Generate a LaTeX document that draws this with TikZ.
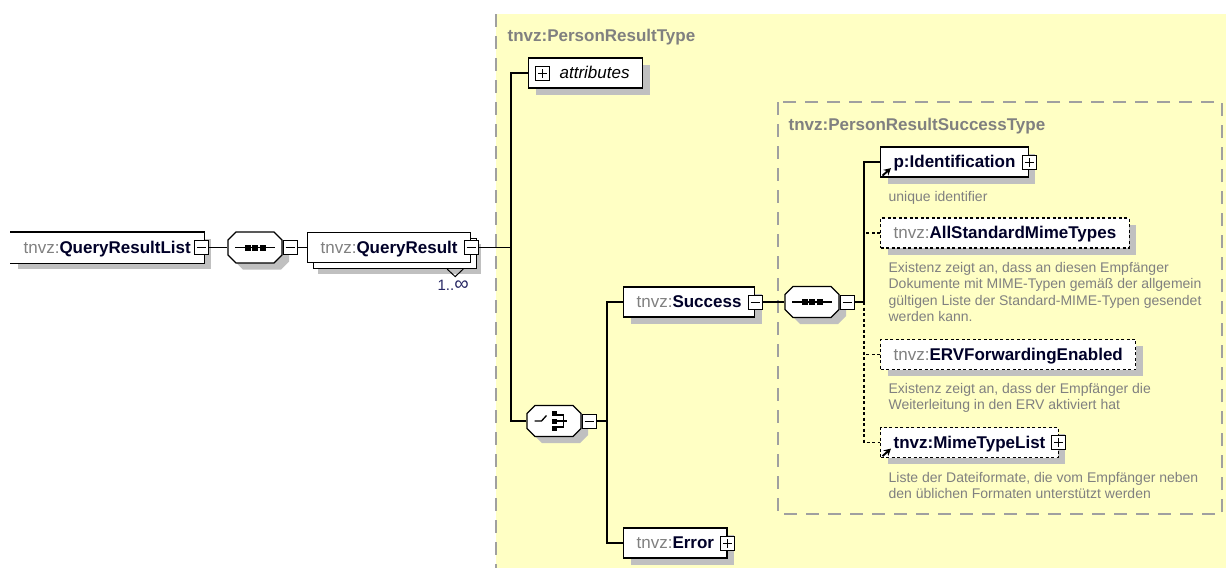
\documentclass[tikz,border=0pt]{standalone}
\usepackage{fontspec}
\setmainfont{Liberation Sans}
\usetikzlibrary{shadows,arrows.meta}

\definecolor{typebg}{RGB}{255,255,196}
\definecolor{shadowgray}{RGB}{192,192,192}
\definecolor{framegray}{RGB}{160,160,160}
\definecolor{prefixgray}{RGB}{128,128,128}
\definecolor{namecol}{RGB}{0,0,40}
\definecolor{doccol}{RGB}{128,128,128}
\definecolor{occurcol}{RGB}{40,40,100}

\newcommand{\tnvzname}[1]{{\color{prefixgray}tnvz:}{\bfseries\color{namecol}#1}}
\newcommand{\signroom}{\hspace{8pt}}

\begin{document}
\begin{tikzpicture}[x=10pt,y=10pt,line width=1.2pt]
    \tikzstyle{boxshadow}=[drop shadow={shadow xshift=7pt, shadow yshift=-6.5pt, fill=shadowgray, opacity=1}]
    \tikzstyle{elembase}=[draw, fill=white, minimum height=30pt, inner xsep=13pt, inner ysep=0pt, text height=13pt, text depth=2pt, font=\fontsize{17}{20}\selectfont]
    \tikzstyle{elem}=[elembase, boxshadow]
    \tikzstyle{optelem}=[elem, dash pattern=on 3pt off 2.5pt]
    \tikzstyle{compositor}=[minimum width=54pt, minimum height=31pt, inner sep=0pt]
    \tikzstyle{pm}=[draw, fill=white, minimum size=14pt, inner sep=0pt, line width=1pt]
    \tikzstyle{doc}=[anchor=north west, inner sep=0pt, align=left, text=doccol, font=\fontsize{14}{16.4}\selectfont]
    \tikzstyle{typetitle}=[anchor=base west, inner sep=0pt, text=prefixgray, font=\fontsize{17}{20}\selectfont\bfseries]
    \tikzstyle{typeframe}=[draw=framegray, dash pattern=on 13pt off 9pt, line width=1.5pt]
    \tikzstyle{optline}=[dash pattern=on 3pt off 2.5pt]
    \tikzstyle{refarrow}=[-{Stealth[length=7pt,width=7.5pt]}, line width=1.9pt]

    \useasboundingbox (0,0) rectangle (122.6,-56.8);

    % complex types
    \fill[typebg] (49.6,-1.4) rectangle (122.6,-56.8);
    \draw[typeframe] (49.6,-1.4) -- (49.6,-56.8);
    \node[typetitle] (prt) at (50.7,-4.1) {tnvz:PersonResultType};
    \draw[typeframe, fill=typebg] (77.8,-10.2) rectangle (122.2,-51.4);
    \node[typetitle] (prst) at (78.8,-13.0) {tnvz:PersonResultSuccessType};

    % elements and compositors
    \node[elem, draw=none, anchor=west] (qrl) at (1.0,-24.75) {\tnvzname{QueryResultList}\signroom};
    \draw (qrl.north west) -- (qrl.north east) -- (qrl.south east) -- (qrl.south west);
    \node[compositor] (seq1) at (25.5,-24.75) {};
    \node[elembase, anchor=west, drop shadow={shadow xshift=10pt, shadow yshift=-11pt, fill=shadowgray, opacity=1}, copy shadow={shadow xshift=6pt, shadow yshift=-6pt}] (qr) at (30.7,-24.75) {\tnvzname{QueryResult}\signroom};
    \node[anchor=base west, inner sep=0pt, text=occurcol, font=\fontsize{15}{17}\selectfont] (qr-occ) at (43.7,-29.0) {1..\scalebox{1.35}{∞}};
    \draw[line width=1pt] ([shift={(-2.4,-0.6)}]qr.south east) -- ++(0.8,-0.75) -- ++(0.8,0.75);

    \node[elem, anchor=west] (attr) at (52.8,-7.3) {\hspace{18pt}\textit{attributes}};
    \node[compositor] (choice) at (55.4,-42.1) {};
    \node[elem, anchor=west] (success) at (62.3,-30.2) {\tnvzname{Success}\signroom};
    \node[elem, anchor=west] (error) at (62.3,-54.3) {\tnvzname{Error}\signroom};
    \node[compositor] (seq2) at (81.2,-30.2) {};

    \node[elem, anchor=west] (ident) at (88.0,-16.2) {\bfseries\color{namecol}p:Identification\signroom};
    \node[optelem, anchor=west] (allstd) at (88.0,-23.3) {\tnvzname{AllStandardMimeTypes}};
    \node[optelem, anchor=west] (erv) at (88.0,-35.45) {\tnvzname{ERVForwardingEnabled}};
    \node[optelem, anchor=west] (mtl) at (88.0,-44.25) {\bfseries\color{namecol}tnvz:MimeTypeList\signroom};

    \node[doc] (ident-doc) at (88.8,-18.95) {\strut unique identifier};
    \node[doc] (allstd-doc) at (88.8,-26.05) {\strut Existenz zeigt an, dass an diesen Empfänger\\Dokumente mit MIME-Typen gemäß der allgemein\\gültigen Liste der Standard-MIME-Typen gesendet\\werden kann.};
    \node[doc] (erv-doc) at (88.8,-38.15) {\strut Existenz zeigt an, dass der Empfänger die\\Weiterleitung in den ERV aktiviert hat};
    \node[doc] (mtl-doc) at (88.8,-47.05) {\strut Liste der Dateiformate, die vom Empfänger neben\\den üblichen Formaten unterstützt werden};

    % octagon outlines of the compositors
    \foreach \c in {seq1,seq2,choice} {
        \fill[shadowgray, shift={(\c.center)}, xshift=7pt, yshift=-6.5pt] (-27pt,7.5pt) -- (-19pt,15.5pt) -- (19pt,15.5pt) -- (27pt,7.5pt) -- (27pt,-7.5pt) -- (19pt,-15.5pt) -- (-19pt,-15.5pt) -- (-27pt,-7.5pt) -- cycle;
        \draw[fill=white, shift={(\c.center)}] (-27pt,7.5pt) -- (-19pt,15.5pt) -- (19pt,15.5pt) -- (27pt,7.5pt) -- (27pt,-7.5pt) -- (19pt,-15.5pt) -- (-19pt,-15.5pt) -- (-27pt,-7.5pt) -- cycle;
    }

    % reference arrows
    \draw[refarrow] ([shift={(0.25,0.2)}]ident.south west) -- ++(0.85,0.75);
    \draw[refarrow] ([shift={(0.25,0.2)}]mtl.south west) -- ++(0.85,0.75);

    % collapse / expand boxes
    \node[pm] (qrl-m) at ([xshift=-3pt]qrl.east) {};
    \node[pm, anchor=west] (seq1-m) at (seq1.east) {};
    \node[pm] (qr-m) at (qr.east) {};
    \node[pm] (attr-p) at ([xshift=14.5pt]attr.west) {};
    \node[pm, anchor=west] (choice-m) at (choice.east) {};
    \node[pm] (success-m) at (success.east) {};
    \node[pm, anchor=west] (seq2-m) at (seq2.east) {};
    \node[pm] (ident-p) at (ident.east) {};
    \node[pm] (error-p) at (error.east) {};
    \node[pm] (mtl-p) at (mtl.east) {};
    \foreach \m in {qrl-m,seq1-m,qr-m,choice-m,success-m,seq2-m}
        \draw[line width=1pt] ([xshift=-4.5pt]\m.center) -- ([xshift=4.5pt]\m.center);
    \foreach \p in {attr-p,ident-p,error-p,mtl-p} {
        \draw[line width=1pt] ([xshift=-4.5pt]\p.center) -- ([xshift=4.5pt]\p.center);
        \draw[line width=1pt] ([yshift=-4.5pt]\p.center) -- ([yshift=4.5pt]\p.center);
    }

    % compositor symbols
    \foreach \c in {seq1,seq2} {
        \draw[line width=1.3pt] ([xshift=-20pt]\c.center) -- ([xshift=20pt]\c.center);
        \foreach \dx in {-7.5,0,7.5}
            \fill ([xshift=\dx pt]\c.center) ++(-3pt,-3pt) rectangle ++(6pt,6pt);
    }
    \draw[line width=1.3pt] ([xshift=-19.5pt]choice.center) -- ++(7pt,0) -- ++(5pt,5.5pt);
    \foreach \dy in {-7.5,0,7.5}
        \fill ([shift={(-2.5pt,\dy pt)}]choice.center) ++(0,-2.5pt) rectangle ++(5pt,5pt);
    \draw[line width=1.2pt] ([shift={(3pt,6pt)}]choice.center) -- ++(6.5pt,0) -- ++(0,-12pt) -- ++(-6.5pt,0);
    \draw[line width=1.2pt] ([xshift=3pt]choice.center) -- ++(10pt,0);

    % connectors
    \coordinate (bus1) at (51.1,-24.75);
    \coordinate (bus2) at (60.7,-42.1);
    \coordinate (bus3) at (86.4,-30.2);
    \draw (qrl-m.east) -- (seq1.west);
    \draw (seq1-m.east) -- (qr.west);
    \draw (qr-m.east) -- (bus1);
    \draw (attr.west) -| (bus1) |- (choice.west);
    \draw (choice-m.east) -- (bus2);
    \draw (success.west) -| (bus2) |- (error.west);
    \draw (success-m.east) -- (seq2.west);
    \draw (seq2-m.east) -- (bus3);
    \draw (ident.west) -| (bus3);
    \draw[optline] (bus3) |- (mtl.west);
    \draw[optline] (allstd.west) -- (allstd.west -| bus3);
    \draw[optline] (erv.west) -- (erv.west -| bus3);
\end{tikzpicture}
\end{document}
